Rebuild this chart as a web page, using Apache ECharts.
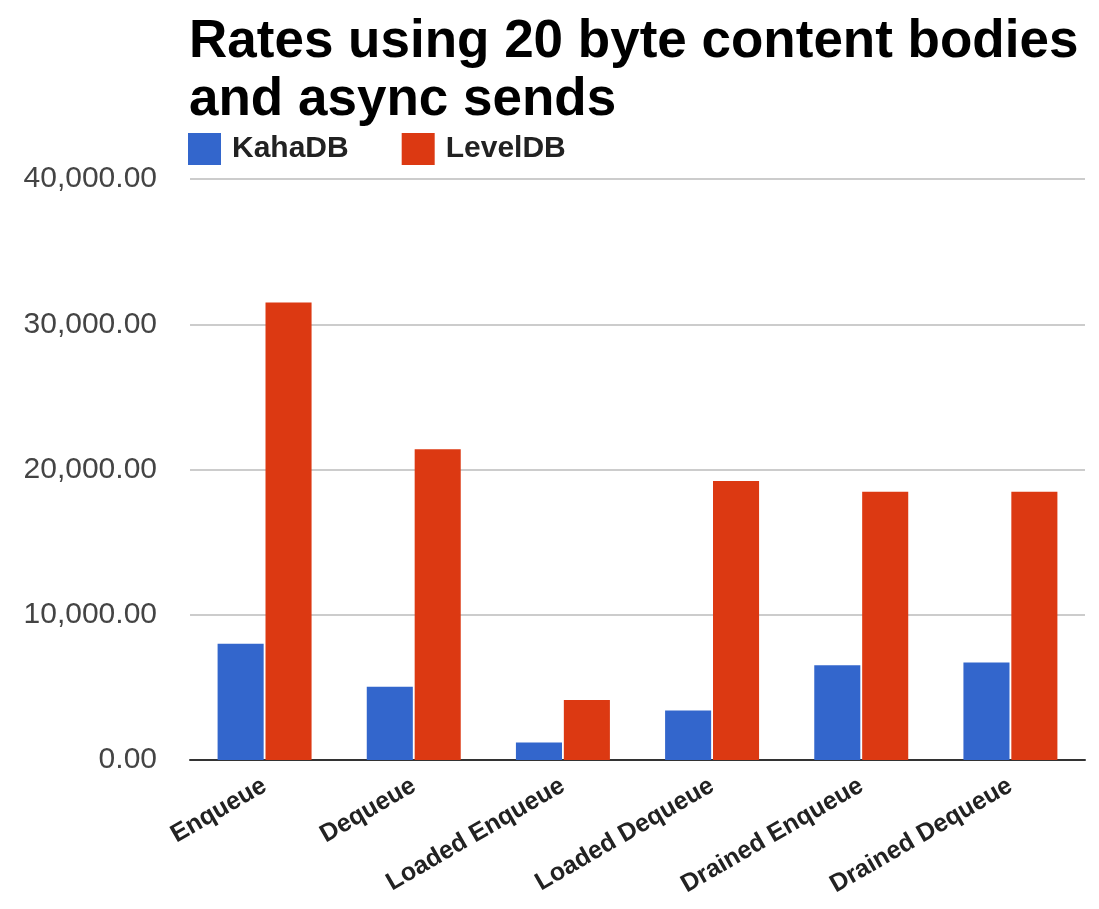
<!DOCTYPE html>
<html lang="en">
<head>
    <meta charset="UTF-8">
    <title>echarts</title>
    <script src="https://cdn.jsdelivr.net/npm/echarts@6/dist/echarts.min.js"></script>
    <style>
        html, body { margin: 0; padding: 0; background: #fff; }
        #myChart { width: 1099px; height: 909px; }
    </style>
</head>
<body>
<div id="myChart"></div>
<script type="text/javascript">
    // data
    var categories = ["Enqueue", "Dequeue", "Loaded Enqueue", "Loaded Dequeue", "Drained Enqueue", "Drained Dequeue"];
    var kahaDB = [8000, 5050, 1200, 3400, 6520, 6720];
    var levelDB = [31500, 21400, 4130, 19200, 18470, 18470];
    var yTicks = [0, 10000, 20000, 30000, 40000];

    var myChart = echarts.init(document.getElementById('myChart'));

    function fmt(v) {
        return v.toLocaleString('en-US', {minimumFractionDigits: 2, maximumFractionDigits: 2});
    }

    var option = {
        animation: false,
        textStyle: {fontFamily: 'Liberation Sans, Arial, sans-serif'},
        title: {
            text: 'Rates using 20 byte content bodies\nand async sends',
            left: 184,
            top: 8,
            textStyle: {fontSize: 53, fontWeight: 'bold', color: '#000', lineHeight: 58}
        },
        legend: {
            left: 188,
            top: 133,
            padding: 0,
            itemWidth: 33,
            itemHeight: 32,
            itemGap: 53,
            icon: 'rect',
            textStyle: {fontSize: 30, fontWeight: 'bold', color: '#222', padding: [0, 0, 0, 6]},
            data: ['KahaDB', 'LevelDB']
        },
        grid: {left: 190, right: 14, top: 179, bottom: 149, containLabel: false},
        xAxis: {
            type: 'category',
            data: categories,
            axisTick: {show: false},
            axisLine: {lineStyle: {color: '#333', width: 2}},
            axisLabel: {rotate: 30, fontSize: 25, fontWeight: 'bold', color: '#222', margin: 24}
        },
        yAxis: {
            type: 'value',
            min: yTicks[0],
            max: yTicks[yTicks.length - 1],
            interval: yTicks[1] - yTicks[0],
            axisLine: {show: false},
            axisTick: {show: false},
            splitLine: {lineStyle: {color: '#ccc', width: 2}},
            axisLabel: {fontSize: 30, color: '#444', margin: 33, formatter: fmt}
        },
        series: [
            {
                name: 'KahaDB', type: 'bar', data: kahaDB,
                itemStyle: {color: '#3366cc'},
                barCategoryGap: '37%', barGap: '4%'
            },
            {
                name: 'LevelDB', type: 'bar', data: levelDB,
                itemStyle: {color: '#dc3912'},
                barCategoryGap: '37%', barGap: '4%'
            }
        ]
    };
    myChart.setOption(option);
</script>
</body>
</html>
